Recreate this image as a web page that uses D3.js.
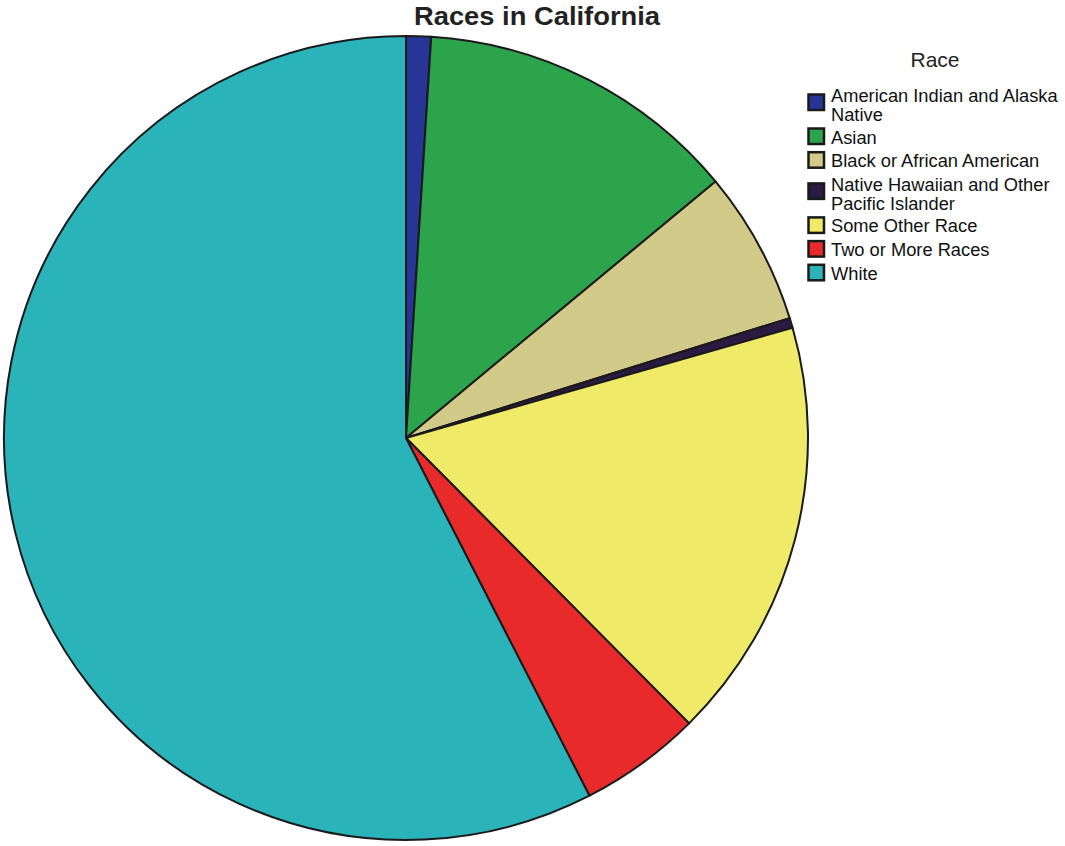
<!DOCTYPE html>
<html><head><meta charset="utf-8">
<script src="https://cdn.jsdelivr.net/npm/d3@7"></script>
<style>body{margin:0;background:#fff}</style>
</head><body>
<svg id="c" width="1065" height="846"></svg>
<script>
const categories = ["American Indian and Alaska Native","Asian","Black or African American","Native Hawaiian and Other Pacific Islander","Some Other Race","Two or More Races","White"];
const legendLines = [["American Indian and Alaska","Native"],["Asian"],["Black or African American"],["Native Hawaiian and Other","Pacific Islander"],["Some Other Race"],["Two or More Races"],["White"]];
const values = [1.0, 13.0, 6.2, 0.4, 17.0, 4.9, 57.6];
const colors = ["#263596","#2ca44c","#d2ca88","#2b1b42","#efeb68","#e82b2a","#2ab3b9"];

const svg = d3.select("#c");
const cx = 406, cy = 438, r = 402;
const pie = d3.pie().sort(null).value(d => d.v);
const arc = d3.arc().innerRadius(0).outerRadius(r);
const data = categories.map((c,i)=>({c, v: values[i], col: colors[i]}));
const g = svg.append("g").attr("transform",`translate(${cx},${cy})`);
g.selectAll("path").data(pie(data)).join("path")
  .attr("d", arc).attr("fill", d => d.data.col)
  .attr("stroke","#1a1a1a").attr("stroke-width",2).attr("stroke-linejoin","round");

svg.append("text").attr("x",537).attr("y",25).attr("text-anchor","middle")
  .attr("font-family","Liberation Sans, Arial, sans-serif").attr("font-weight","bold")
  .attr("font-size",25).attr("textLength",246).attr("lengthAdjust","spacingAndGlyphs")
  .attr("fill","#222").text("Races in California");

svg.append("text").attr("x",935).attr("y",67).attr("text-anchor","middle")
  .attr("font-family","Liberation Sans, Arial, sans-serif")
  .attr("font-size",21).attr("fill","#222").text("Race");

const lg = svg.append("g");
let b = 102;
legendLines.forEach((lines,i)=>{
  const sy = lines.length>1 ? b-7.5 : b-15;
  lg.append("rect").attr("x",808.5).attr("y",sy).attr("width",15.5).attr("height",15.5)
    .attr("fill",colors[i]).attr("stroke","#1a1a1a").attr("stroke-width",2.5);
  lines.forEach((t,j)=>{
    lg.append("text").attr("x",831).attr("y",b+j*19)
      .attr("font-family","Liberation Sans, Arial, sans-serif").attr("font-size",18.3)
      .attr("fill","#111").text(t);
  });
  b += lines.length>1 ? 19+22.5 : 23.7;
});
</script>
</body></html>
